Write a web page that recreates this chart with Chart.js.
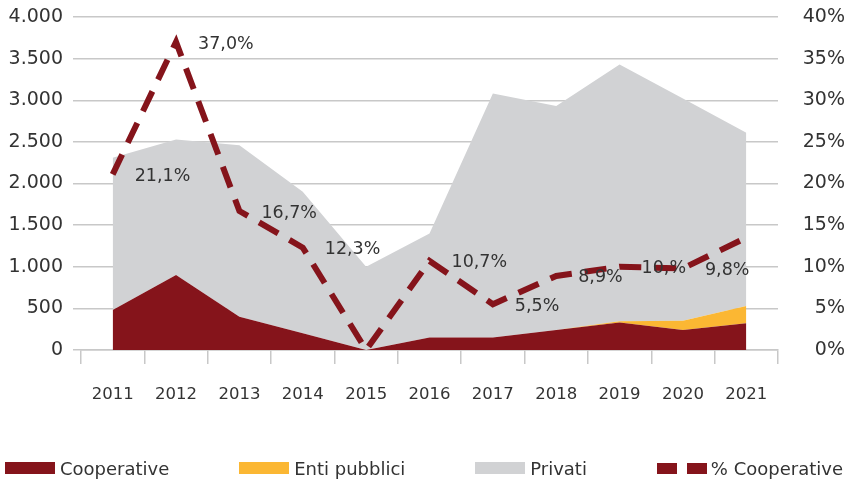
<!DOCTYPE html>
<html>
<head>
<meta charset="utf-8">
<script src="https://cdn.jsdelivr.net/npm/chart.js@4/dist/chart.umd.min.js"></script>
<style>
  html, body { margin: 0; padding: 0; background: #fff; }
  #wrap { position: relative; width: 845px; height: 481px; }
  #c { position: absolute; left: 0; top: 0; }
  #legend {
    position: absolute; left: 5px; top: 457px; width: 838px; height: 22px;
    display: flex; justify-content: space-between; align-items: center;
    font-family: "DejaVu Sans", sans-serif; font-size: 18px; color: #333;
  }
  .item { display: flex; align-items: center; white-space: nowrap; }
  .sw { width: 50px; height: 12px; margin-right: 5px; }
</style>
</head>
<body>
<div id="wrap">
  <canvas id="c" width="845" height="481"></canvas>
  <div id="legend"></div>
</div>
<script>
// ---- data ----
const years = ['2011','2012','2013','2014','2015','2016','2017','2018','2019','2020','2021'];
const cooperative  = [480, 900, 400, 200, 0, 150, 150, 240, 330, 240, 320];
const entiPubblici = [0, 0, 0, 0, 0, 0, 0, 0, 15, 110, 210];
const privati      = [1830, 1630, 2060, 1700, 1000, 1250, 2930, 2690, 3085, 2670, 2080];
const pctCooperative = [21.1, 37.0, 16.7, 12.3, 0.0, 10.7, 5.5, 8.9, 10.0, 9.8, 13.5];
const pctLabels = ['21,1%', '37,0%', '16,7%', '12,3%', '', '10,7%', '5,5%', '8,9%', '10,%', '9,8%', ''];
const leftTickLabels  = ['0', '500', '1.000', '1.500', '2.000', '2.500', '3.000', '3.500', '4.000'];
const rightTickLabels = ['0%', '5%', '10%', '15%', '20%', '25%', '30%', '35%', '40%'];
const seriesNames = ['Cooperative', 'Enti pubblici', 'Privati', '% Cooperative'];

// ---- styles ----
const RED = '#85141b', ORANGE = '#fbb733', GREY = '#d1d2d4';
const TXT = '#333333', GRID = '#c8c8c8';
const FONT = '"DejaVu Sans", sans-serif';

const labelPlugin = {
  id: 'pctLabels',
  afterDatasetsDraw(chart) {
    const meta = chart.getDatasetMeta(3);
    const ctx = chart.ctx;
    ctx.save();
    ctx.font = '17.5px ' + FONT;
    ctx.fillStyle = TXT;
    ctx.textAlign = 'left';
    ctx.textBaseline = 'middle';
    meta.data.forEach((pt, i) => {
      if (pctLabels[i]) ctx.fillText(pctLabels[i], pt.x + 22, pt.y + 2);
    });
    ctx.restore();
  }
};

const chart = new Chart(document.getElementById('c'), {
  type: 'line',
  data: {
    labels: years,
    datasets: [
      { label: seriesNames[0], data: cooperative, backgroundColor: RED, borderColor: 'rgba(0,0,0,0)', borderWidth: 0, fill: 'origin', pointRadius: 0, stack: 'a', order: 1, tension: 0 },
      { label: seriesNames[1], data: entiPubblici, backgroundColor: ORANGE, borderColor: 'rgba(0,0,0,0)', borderWidth: 0, fill: '-1', pointRadius: 0, stack: 'a', order: 1, tension: 0 },
      { label: seriesNames[2], data: privati, backgroundColor: GREY, borderColor: 'rgba(0,0,0,0)', borderWidth: 0, fill: '-1', pointRadius: 0, stack: 'a', order: 1, tension: 0 },
      { label: seriesNames[3], data: pctCooperative, yAxisID: 'y1', borderColor: RED, backgroundColor: RED, borderWidth: 6, borderDash: [22, 13], borderCapStyle: 'butt', borderJoinStyle: 'miter', fill: false, pointRadius: 0, order: 0, tension: 0 }
    ]
  },
  options: {
    responsive: false,
    animation: false,
    layout: { padding: { left: 0, right: 0, top: 17, bottom: 76 } },
    plugins: { legend: { display: false }, tooltip: { enabled: false } },
    scales: {
      x: {
        offset: true,
        afterFit: (s) => { s.height = 55; },
        grid: { offset: true, drawOnChartArea: false, tickLength: 14, color: GRID, lineWidth: 1.5 },
        border: { color: GRID, width: 1.5 },
        ticks: { padding: 21, color: TXT, font: { family: FONT, size: 16.5 }, maxRotation: 0, autoSkip: false }
      },
      y: {
        stacked: true,
        min: 0, max: 4000,
        afterFit: (s) => { s.width = 81; s.paddingTop = 0; s.paddingBottom = 0; },
        grid: { color: GRID, lineWidth: 1.5, tickLength: 8 },
        border: { display: false },
        ticks: { stepSize: 500, padding: 10, color: TXT, font: { family: FONT, size: 19 },
                 callback: (v, i) => leftTickLabels[i] }
      },
      y1: {
        position: 'right',
        min: 0, max: 40,
        afterFit: (s) => { s.width = 67; s.paddingTop = 0; s.paddingBottom = 0; },
        grid: { display: false, drawTicks: false },
        border: { display: false },
        ticks: { stepSize: 5, padding: 19, crossAlign: 'far', color: TXT, font: { family: FONT, size: 19 },
                 callback: (v, i) => rightTickLabels[i] }
      }
    }
  },
  plugins: [labelPlugin]
});

// ---- HTML legend ----
const legend = document.getElementById('legend');
const swatches = [
  'background:' + RED,
  'background:' + ORANGE,
  'background:' + GREY,
  'height:11px;background:repeating-linear-gradient(to right,' + RED + ' 0 20px, transparent 20px 30px)'
];
seriesNames.forEach((name, i) => {
  const item = document.createElement('div');
  item.className = 'item';
  const sw = document.createElement('span');
  sw.className = 'sw';
  sw.setAttribute('style', swatches[i] + (i === 3 ? ';margin-right:4px' : ''));
  const t = document.createElement('span');
  t.textContent = name;
  item.appendChild(sw);
  item.appendChild(t);
  legend.appendChild(item);
});
</script>
</body>
</html>
